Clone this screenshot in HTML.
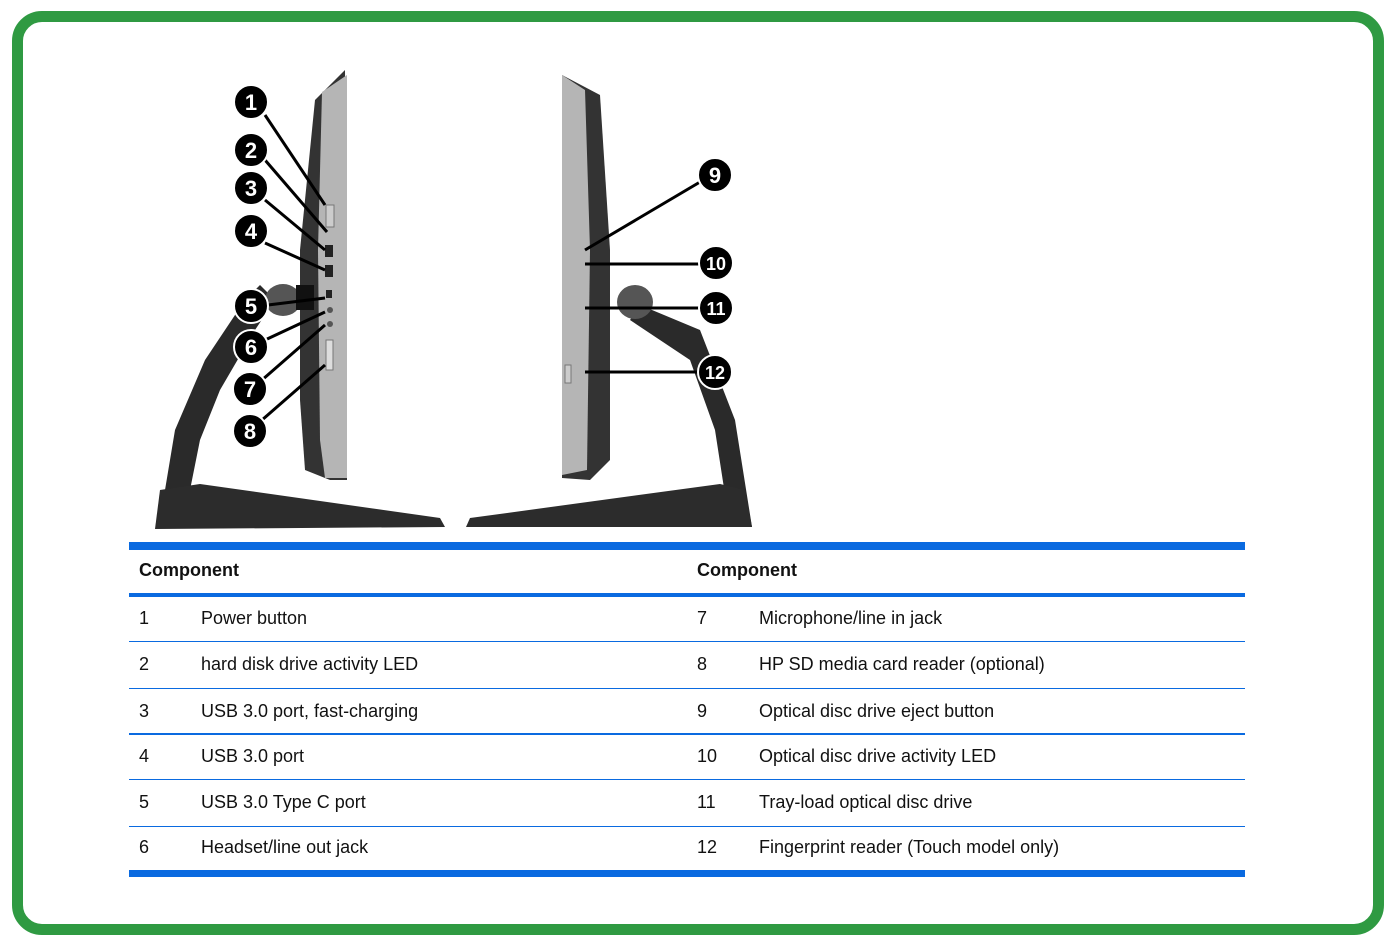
<!DOCTYPE html>
<html><head><meta charset="utf-8"><style>
html,body{margin:0;padding:0;background:#fff;}
body{width:1394px;height:944px;position:relative;overflow:hidden;font-family:"Liberation Sans",sans-serif;}
.frame{position:absolute;left:12px;top:11px;width:1350px;height:902px;border:11px solid #2f9a42;border-radius:30px;background:#fff;}
.hl{position:absolute;left:129px;width:1116px;background:#0a6ae0;}
.t{position:absolute;font-size:18px;color:#111;white-space:nowrap;}
.h{font-weight:bold;font-size:18px;}
</style></head><body>
<div class="frame"></div>
<svg style="position:absolute;left:0;top:0" width="1394" height="944">
<!-- left computer -->
<path d="M160 520 L175 430 L205 360 L245 300 L260 285 L275 300 L255 330 L220 390 L200 440 L190 490 Z" fill="#2a2a2a"/>
<path d="M315 100 L345 70 L347 480 L330 480 L305 470 L300 400 L300 250 Z" fill="#333"/>
<path d="M322 92 L347 75 L347 478 L325 478 L320 440 L318 250 Z" fill="#b5b5b5"/>
<ellipse cx="283" cy="300" rx="18" ry="16" fill="#555"/>
<rect x="296" y="285" width="18" height="25" fill="#111"/>
<path d="M160 490 L200 484 L440 518 L445 527 L155 529 Z" fill="#2c2c2c"/>
<rect x="326" y="340" width="7" height="30" fill="#ddd" stroke="#777"/>
<rect x="325" y="245" width="8" height="12" fill="#222"/><rect x="325" y="265" width="8" height="12" fill="#222"/>
<rect x="326" y="290" width="6" height="8" fill="#222"/>
<circle cx="330" cy="310" r="3" fill="#555"/><circle cx="330" cy="324" r="3" fill="#555"/>
<rect x="326" y="205" width="8" height="22" fill="#ccc" stroke="#777"/>
<!-- right computer -->
<path d="M562 75 L600 95 L610 250 L610 460 L590 480 L562 478 Z" fill="#333"/>
<path d="M562 75 L585 90 L590 250 L587 470 L562 475 Z" fill="#b5b5b5"/>
<path d="M640 305 L700 330 L735 420 L752 527 L730 527 L715 430 L690 360 L630 320 Z" fill="#2a2a2a"/>
<ellipse cx="635" cy="302" rx="18" ry="17" fill="#555"/>
<path d="M470 518 L720 484 L745 490 L752 527 L466 527 Z" fill="#2c2c2c"/>
<rect x="565" y="365" width="6" height="18" fill="#ccc" stroke="#777"/>
<g stroke="#000" stroke-width="3">
<line x1="265" y1="115" x2="325" y2="205"/><line x1="265" y1="160" x2="327" y2="232"/>
<line x1="265" y1="200" x2="325" y2="250"/><line x1="265" y1="243" x2="325" y2="270"/>
<line x1="268" y1="305" x2="325" y2="298"/><line x1="265" y1="340" x2="325" y2="312"/>
<line x1="262" y1="380" x2="325" y2="325"/><line x1="262" y1="420" x2="325" y2="365"/>
<line x1="700" y1="182" x2="585" y2="250"/><line x1="700" y1="264" x2="585" y2="264"/>
<line x1="700" y1="308" x2="585" y2="308"/><line x1="700" y1="372" x2="585" y2="372"/>
</g>
<g fill="#000" stroke="#fff" stroke-width="2">
<circle cx="251" cy="102" r="17"/><circle cx="251" cy="150" r="17"/><circle cx="251" cy="188" r="17"/><circle cx="251" cy="231" r="17"/>
<circle cx="251" cy="306" r="17"/><circle cx="251" cy="347" r="17"/><circle cx="250" cy="389" r="17"/><circle cx="250" cy="431" r="17"/>
<circle cx="715" cy="175" r="17"/><circle cx="716" cy="263" r="17"/><circle cx="716" cy="308" r="17"/><circle cx="715" cy="372" r="17"/>
</g>
<g fill="#fff" font-family="Liberation Sans" font-weight="bold" font-size="22" text-anchor="middle">
<text x="251" y="110">1</text><text x="251" y="158">2</text><text x="251" y="196">3</text><text x="251" y="239">4</text>
<text x="251" y="314">5</text><text x="251" y="355">6</text><text x="250" y="397">7</text><text x="250" y="439">8</text>
<text x="715" y="183">9</text><text x="716" y="270" font-size="18">10</text><text x="716" y="315" font-size="18">11</text><text x="715" y="379" font-size="18">12</text>
</g>
</svg>
<div class="hl" style="top:542px;height:8px"></div>
<div class="hl" style="top:593px;height:4px"></div>
<div class="hl" style="top:641px;height:1px"></div>
<div class="hl" style="top:688px;height:1px"></div>
<div class="hl" style="top:733px;height:2px"></div>
<div class="hl" style="top:779px;height:1px"></div>
<div class="hl" style="top:826px;height:1px"></div>
<div class="hl" style="top:870px;height:7px"></div>
<div class="t h" style="left:139px;top:560px">Component</div>
<div class="t h" style="left:697px;top:560px">Component</div>
<div class="t" style="left:139px;top:608px">1</div><div class="t" style="left:201px;top:608px">Power button</div>
<div class="t" style="left:139px;top:654px">2</div><div class="t" style="left:201px;top:654px">hard disk drive activity LED</div>
<div class="t" style="left:139px;top:701px">3</div><div class="t" style="left:201px;top:701px">USB 3.0 port, fast-charging</div>
<div class="t" style="left:139px;top:746px">4</div><div class="t" style="left:201px;top:746px">USB 3.0 port</div>
<div class="t" style="left:139px;top:792px">5</div><div class="t" style="left:201px;top:792px">USB 3.0 Type C port</div>
<div class="t" style="left:139px;top:837px">6</div><div class="t" style="left:201px;top:837px">Headset/line out jack</div>
<div class="t" style="left:697px;top:608px">7</div><div class="t" style="left:759px;top:608px">Microphone/line in jack</div>
<div class="t" style="left:697px;top:654px">8</div><div class="t" style="left:759px;top:654px">HP SD media card reader (optional)</div>
<div class="t" style="left:697px;top:701px">9</div><div class="t" style="left:759px;top:701px">Optical disc drive eject button</div>
<div class="t" style="left:697px;top:746px">10</div><div class="t" style="left:759px;top:746px">Optical disc drive activity LED</div>
<div class="t" style="left:697px;top:792px">11</div><div class="t" style="left:759px;top:792px">Tray-load optical disc drive</div>
<div class="t" style="left:697px;top:837px">12</div><div class="t" style="left:759px;top:837px">Fingerprint reader (Touch model only)</div>
</body></html>
